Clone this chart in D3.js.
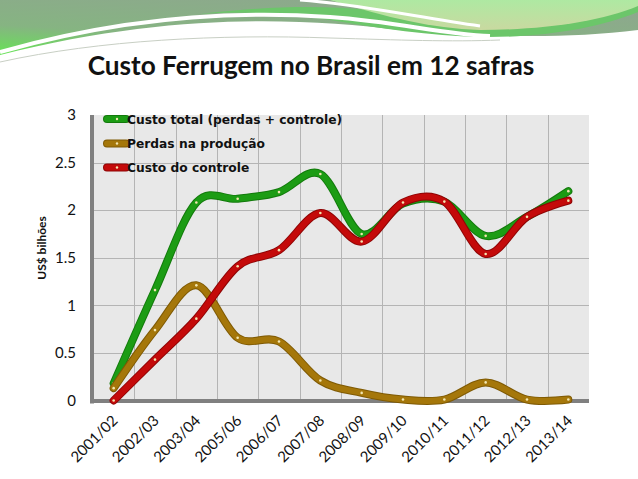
<!DOCTYPE html>
<html lang="pt">
<head>
<meta charset="utf-8" />
<title>Custo Ferrugem no Brasil em 12 safras</title>
<script src="https://cdn.jsdelivr.net/npm/d3@7"></script>
<style>
  body { margin: 0; background: #fff; }
  svg { display: block; font-family: Lato, "Open Sans", sans-serif; }
</style>
</head>
<body>
<script>
  // safras (categorias)
  const safras = ["2001/02", "2002/03", "2003/04", "2005/06", "2006/07", "2007/08",
                  "2008/09", "2009/10", "2010/11", "2011/12", "2012/13", "2013/14"];
  // US$ bilhões
  const custoTotal = [0.18, 1.16, 2.08, 2.12, 2.19, 2.38, 1.75, 2.07, 2.09, 1.73, 1.93, 2.20];
  const perdas     = [0.13, 0.74, 1.21, 0.66, 0.62, 0.21, 0.08, 0.01, 0.01, 0.19, 0.01, 0.01];
  const controle   = [0.00, 0.43, 0.86, 1.41, 1.58, 1.97, 1.67, 2.08, 2.09, 1.54, 1.93, 2.10];
  const yTicks = [0, 0.5, 1, 1.5, 2, 2.5, 3];

  const series = [
    {name: "Custo total (perdas + controle)", values: custoTotal, color: "#1c9c14", edge: "#137a0c"},
    {name: "Perdas na produção", values: perdas, color: "#a5770a", edge: "#7f5a04"},
    {name: "Custo do controle", values: controle, color: "#c40a0a", edge: "#8f0505"}
  ];

  const W = 638, H = 479;
  const plot = {left: 93, right: 589, top: 115, bottom: 400.5};

  const svg = d3.select("body").append("svg")
      .attr("width", W)
      .attr("height", H);

  // --- header decoration (green swoosh) ---
  const defs = svg.append("defs");
  const g1 = defs.append("linearGradient").attr("id", "dark")
      .attr("x1", "0.6").attr("y1", "0").attr("x2", "0").attr("y2", "1");
  g1.append("stop").attr("offset", "0").attr("stop-color", "#8da88d");
  g1.append("stop").attr("offset", "0.6").attr("stop-color", "#86b482");
  g1.append("stop").attr("offset", "1").attr("stop-color", "#66e455");
  const g2 = defs.append("linearGradient").attr("id", "light")
      .attr("x1", "0").attr("y1", "0").attr("x2", "0").attr("y2", "1");
  g2.append("stop").attr("offset", "0").attr("stop-color", "#aee9a2");
  g2.append("stop").attr("offset", "1").attr("stop-color", "#c9d9a0");

  const deco = svg.append("g");
  deco.append("path")
      .attr("d", "M0,0 L638,0 L638,30 C560,40 470,36 400,30 C300,18 170,12 0,55 Z")
      .attr("fill", "url(#dark)");
  deco.append("path")
      .attr("d", "M560,0 L638,0 L638,12 C600,28 540,38 480,37 C430,36 380,28 330,20 C300,16 250,10 200,14 C270,6 320,5 370,10 C420,16 470,6 560,0 Z")
      .attr("fill", "#6cc66a");
  deco.append("path")
      .attr("d", "M330,0 L638,0 L638,6 C600,22 540,30 480,30 C430,28 390,18 330,0 Z")
      .attr("fill", "url(#light)");
  deco.append("path")
      .attr("d", "M0,52 C120,18 230,10 330,17 C400,22 440,34 490,36")
      .attr("fill", "none").attr("stroke", "#fff").attr("stroke-width", 4);
  deco.append("path")
      .attr("d", "M0,62 C100,40 220,34 330,38 C400,40 450,42 500,40")
      .attr("fill", "none").attr("stroke", "#c8cfc4").attr("stroke-width", 1);
  deco.append("path")
      .attr("d", "M300,0 C360,4 420,18 480,26")
      .attr("fill", "none").attr("stroke", "#fff").attr("stroke-width", 3);

  // shrink or grow a text node so it spans the given width
  function fitWidth(sel, target) {
    const node = sel.node();
    const fs = +sel.attr("font-size");
    const w = node.getComputedTextLength();
    if (w > 0) sel.attr("font-size", (fs * target / w).toFixed(2));
  }

  // --- title ---
  const title = svg.append("text")
      .attr("x", 311)
      .attr("y", 75)
      .attr("text-anchor", "middle")
      .attr("font-size", 26)
      .attr("font-weight", "bold")
      .attr("fill", "#111")
      .text("Custo Ferrugem no Brasil em 12 safras");
  fitWidth(title, 447);

  // --- scales ---
  const x = d3.scaleBand(safras, [plot.left, plot.right]).padding(0);
  const y = d3.scaleLinear([0, 3], [plot.bottom, plot.top]);
  const cx = d => x(d) + x.bandwidth() / 2;

  // plot background
  svg.append("rect")
      .attr("x", plot.left).attr("y", plot.top)
      .attr("width", plot.right - plot.left)
      .attr("height", plot.bottom - plot.top)
      .attr("fill", "#e8e8e8");

  // grid
  const grid = svg.append("g").attr("stroke", "#b4b4b4").attr("stroke-width", 1);
  grid.selectAll("line.v")
      .data(safras.slice(1))
      .join("line")
      .attr("x1", d => Math.round(x(d)) + 0.5).attr("x2", d => Math.round(x(d)) + 0.5)
      .attr("y1", plot.top).attr("y2", plot.bottom);
  grid.selectAll("line.h")
      .data(yTicks.filter(t => t > 0 && t < 3))
      .join("line")
      .attr("class", "h")
      .attr("x1", plot.left).attr("x2", plot.right)
      .attr("y1", d => Math.round(y(d)) + 0.5).attr("y2", d => Math.round(y(d)) + 0.5);

  // thick axis bars
  svg.append("rect")
      .attr("x", plot.left - 3).attr("y", plot.top)
      .attr("width", 4).attr("height", plot.bottom - plot.top + 3)
      .attr("fill", "#808080");
  svg.append("rect")
      .attr("x", plot.left - 3).attr("y", plot.bottom - 1.5)
      .attr("width", plot.right - plot.left + 3).attr("height", 4)
      .attr("fill", "#808080");

  // y axis
  const yAxisG = svg.append("g")
      .attr("transform", `translate(${plot.left - 3},0)`)
      .call(d3.axisLeft(y).tickValues(yTicks).tickSize(0).tickPadding(14).tickFormat(d3.format("")));
  yAxisG.select(".domain").remove();
  yAxisG.selectAll("text")
      .attr("font-family", "Lato, sans-serif")
      .attr("font-size", 15)
      .attr("fill", "#111");

  // x axis
  const xAxisG = svg.append("g")
      .attr("transform", `translate(0,${plot.bottom + 2})`)
      .call(d3.axisBottom(x).tickSize(0).tickPadding(0));
  xAxisG.select(".domain").remove();
  xAxisG.selectAll("text")
      .attr("font-family", "Lato, sans-serif")
      .attr("font-size", 15)
      .attr("fill", "#111")
      .attr("text-anchor", "end")
      .attr("dy", 0)
      .attr("transform", "translate(5,19) rotate(-45)");

  // y axis title
  svg.append("text")
      .attr("transform", "translate(46,248) rotate(-90)")
      .attr("text-anchor", "middle")
      .attr("font-size", 12)
      .attr("font-weight", "bold")
      .attr("fill", "#111")
      .text("US$ bilhões");

  // --- lines ---
  const line = d3.line()
      .x((d, i) => cx(safras[i]))
      .y(d => y(d))
      .curve(d3.curveCardinal.tension(0));

  const lines = svg.append("g");
  series.forEach(s => {
    const g = lines.append("g");
    g.append("path")
        .attr("d", line(s.values))
        .attr("fill", "none")
        .attr("stroke", s.edge)
        .attr("stroke-width", 8)
        .attr("stroke-linecap", "round");
    g.append("path")
        .attr("d", line(s.values))
        .attr("fill", "none")
        .attr("stroke", s.color)
        .attr("stroke-width", 6)
        .attr("stroke-linecap", "round");
    g.selectAll("circle")
        .data(s.values)
        .join("circle")
        .attr("cx", (d, i) => cx(safras[i]))
        .attr("cy", d => y(d))
        .attr("r", 1.3)
        .attr("fill", "#f2e6b0");
  });

  // --- legend ---
  const legend = svg.append("g");
  const legY = [119, 143.5, 167.5];
  let legSize = null;
  series.forEach((s, i) => {
    const row = legend.append("g").attr("transform", `translate(0,${legY[i]})`);
    row.append("line")
        .attr("x1", 107).attr("x2", 126)
        .attr("y1", 0).attr("y2", 0)
        .attr("stroke", s.edge).attr("stroke-width", 8).attr("stroke-linecap", "round");
    row.append("line")
        .attr("x1", 107).attr("x2", 126)
        .attr("y1", 0).attr("y2", 0)
        .attr("stroke", s.color).attr("stroke-width", 6).attr("stroke-linecap", "round");
    row.append("circle").attr("cx", 117).attr("cy", 0).attr("r", 1.2).attr("fill", "#f2e6b0");
    const t = row.append("text")
        .attr("x", 127)
        .attr("y", 4.5)
        .attr("font-family", "'DejaVu Sans', sans-serif")
        .attr("font-size", legSize || 12)
        .attr("font-weight", "bold")
        .attr("fill", "#111")
        .text(s.name);
    if (i === 0) { fitWidth(t, 215); legSize = +t.attr("font-size"); }
  });
</script>
</body>
</html>
